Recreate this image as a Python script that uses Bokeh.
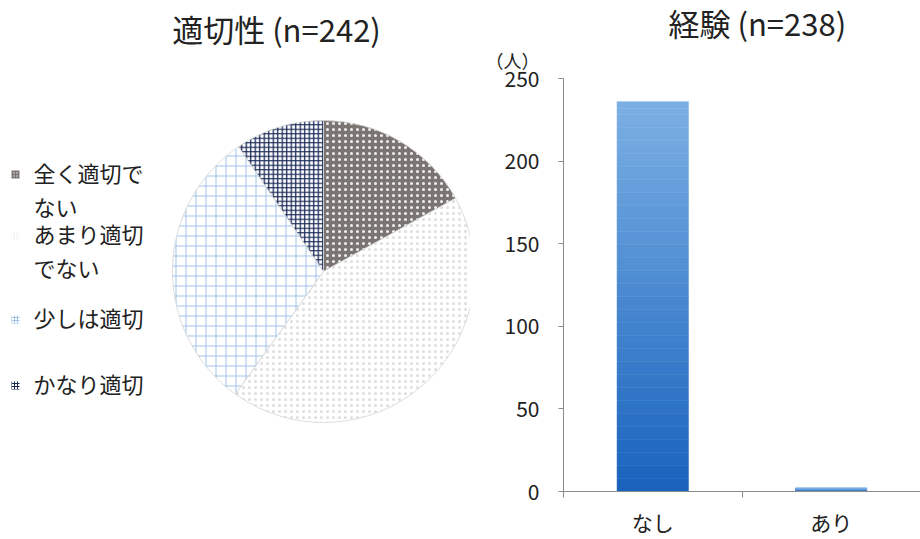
import numpy as np
from bokeh.plotting import figure
from bokeh.layouts import row
from bokeh.models import Range1d, Label, FixedTicker, ColumnDataSource, Title
from bokeh.core.properties import value
from bokeh.embed import file_html
from bokeh.resources import INLINE

# ---- data ----
pie_title = "適切性 (n=242)"
pie_labels = ["全く適切で\nない", "あまり適切\nでない", "少しは適切", "かなり適切"]
pie_counts = [41, 104, 74, 23]

bar_title = "経験 (n=238)"
bar_cats = ["なし", "あり"]
bar_counts = [236, 2]
y_ticks = [0, 50, 100, 150, 200, 250]
y_unit = "（人）"

FNAME = "Noto Sans CJK JP"
FONT = value(FNAME)
TXT = "#222222"

# ---- pie styles ----
fills = ["#7a7472", "#ffffff", "#ffffff", "#ffffff"]
hatches = ["dot", "dot", "cross", "cross"]
hatch_colors = ["#f0f0f0", "#dedede", "#9fc3e6", "#1a2a58"]
hatch_scales = [6, 6, 10, 4.5]
hatch_weights = [1.2, 0.7, 1.0, 1.3]

W1, H = 470, 539
p1 = figure(width=W1, height=H, x_range=Range1d(0, W1), y_range=Range1d(0, H),
            output_backend="svg", toolbar_location=None, min_border=0,
            x_axis_type=None, y_axis_type=None, outline_line_color=None)
p1.grid.visible = False
p1.frame_align = False

frac = np.array(pie_counts, dtype=float) / sum(pie_counts)
cum = np.concatenate([[0], np.cumsum(frac)])
start = np.pi / 2 - cum[:-1] * 2 * np.pi
end = np.pi / 2 - cum[1:] * 2 * np.pi
src = ColumnDataSource(dict(start=start, end=end, fill=fills, hatch=hatches,
                            hc=hatch_colors, hs=hatch_scales, hw=hatch_weights))
p1.wedge(x=323, y=H - 271, radius=151, radius_units="screen",
         start_angle="start", end_angle="end", direction="clock",
         fill_color="fill", hatch_pattern="hatch", hatch_color="hc",
         hatch_scale="hs", hatch_weight="hw",
         line_color="#d4d4d4", line_width=0.8, source=src)

# legend (layout positions of the entries)
leg_y = np.array([174, 235, 319, 385])
lsrc = ColumnDataSource(dict(y=H - leg_y, ty=H - (leg_y - 19),
                             lab=pie_labels, fill=fills, hatch=hatches,
                             hc=hatch_colors))
p1.rect(x=15, y="y", width=8, height=8, width_units="screen", height_units="screen",
        fill_color="fill", hatch_pattern="hatch", hatch_color="hc", hatch_scale=3,
        hatch_weight=1, line_color=None, source=lsrc)
p1.text(x=33, y="ty", text="lab", text_font=FONT, text_font_size="22px",
        text_color=TXT, text_baseline="top", text_line_height=1.07, source=lsrc)

p1.add_layout(Label(x=276, y=H - 28, text=pie_title, text_align="center",
                    text_baseline="middle", text_font=FNAME, text_font_size="31px",
                    text_color=TXT))

# ---- bar chart ----
W2 = 920 - W1
p2 = figure(width=W2, height=H, x_range=Range1d(0, 2), y_range=Range1d(0, 250),
            output_backend="svg", toolbar_location=None,
            min_border_left=93, min_border_right=0, min_border_top=78,
            min_border_bottom=44, outline_line_color=None)
p2.grid.visible = False
p2.frame_align = False

# chart title (outer) and unit label (next to the frame)
p2.title.text = bar_title
p2.title.align = "left"
p2.title.offset = 105
p2.title.standoff = -13
p2.title.text_font = FNAME
p2.title.text_font_size = "31px"
p2.title.text_font_style = "normal"
p2.title.text_color = TXT
p2.add_layout(Title(text=y_unit, align="left", offset=-78, standoff=12,
                    text_font=FNAME, text_font_size="18px", text_font_style="normal",
                    text_color=TXT), "above")

# gradient bars (stacked slices of each bar)
N = 60
top_c = np.array([0x7c, 0xb0, 0xe4])
bot_c = np.array([0x18, 0x62, 0xbd])
xs, b, t, cols = [], [], [], []
for i, v in enumerate(bar_counts):
    for k in range(N):
        f = (k + 0.5) / N
        c = bot_c + (top_c - bot_c) * f
        xs.append(i + 0.5)
        b.append(v * k / N)
        t.append(v * (k + 1) / N)
        cols.append("#%02x%02x%02x" % tuple(int(round(q)) for q in c))
p2.vbar(x=xs, bottom=b, top=t, width=0.4, fill_color=cols, line_color=cols,
        line_width=0.5)

ax_col = "#8c8c8c"
ya = p2.yaxis[0]
ya.ticker = FixedTicker(ticks=y_ticks)
ya.major_tick_out = 5
ya.major_tick_in = 0
ya.minor_tick_line_color = None
ya.axis_line_color = ax_col
ya.major_tick_line_color = ax_col
ya.major_label_text_font = FNAME
ya.major_label_text_font_size = "21px"
ya.major_label_text_color = TXT
ya.major_label_standoff = 19

xa = p2.xaxis[0]
centers = [i + 0.5 for i in range(len(bar_cats))]
xa.ticker = FixedTicker(ticks=centers, minor_ticks=list(range(len(bar_cats) + 1)))
xa.major_label_overrides = {c: lab for c, lab in zip(centers, bar_cats)}
xa.major_tick_out = 0
xa.major_tick_in = 0
xa.minor_tick_out = 6
xa.minor_tick_in = 0
xa.axis_line_color = ax_col
xa.minor_tick_line_color = ax_col
xa.major_label_text_font = FNAME
xa.major_label_text_font_size = "21px"
xa.major_label_text_color = TXT
xa.major_label_standoff = 9

layout = row(p1, p2)
open("out.html", "w").write(file_html(layout, INLINE))
